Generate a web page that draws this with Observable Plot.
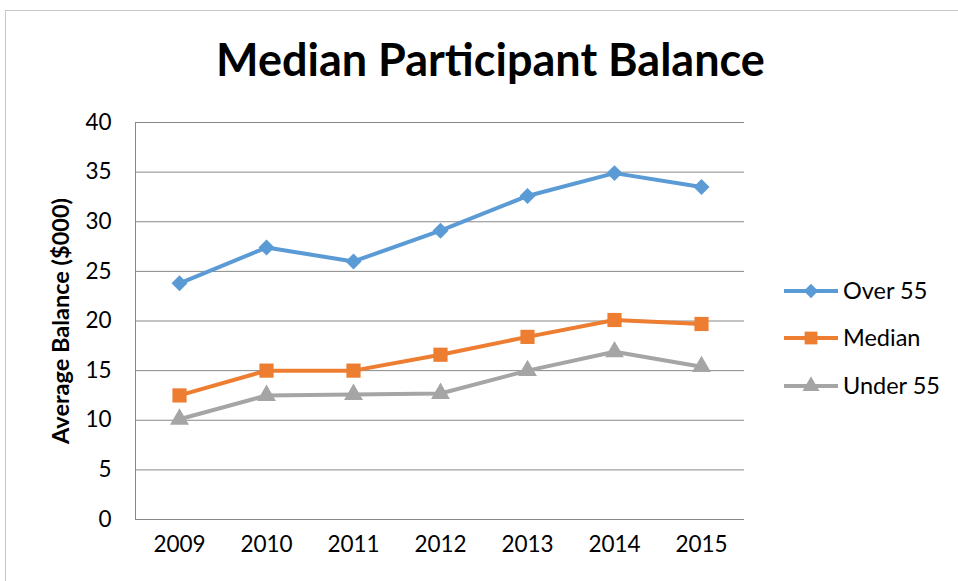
<!DOCTYPE html>
<html><head><meta charset="utf-8">
<script src="https://cdn.jsdelivr.net/npm/d3@7"></script>
<script src="https://cdn.jsdelivr.net/npm/@observablehq/plot@0.6"></script>
<style>
html,body{margin:0;padding:0;background:#fff;}
#wrap{position:relative;width:958px;height:581px;overflow:hidden;font-family:Lato,"Open Sans",sans-serif;}
#border{position:absolute;left:5px;top:10px;width:2000px;height:2000px;border-left:1.5px solid #c8c8c8;border-top:1.5px solid #c8c8c8;}
#title{position:absolute;left:0;top:32px;width:981px;text-align:center;font-size:45px;line-height:54px;font-weight:bold;color:#000;}
#chart{position:absolute;left:0;top:0;}
#legend{position:absolute;left:778px;top:0;}
</style></head>
<body><div id="wrap"><div id="border"></div><div id="chart"></div><div id="title">Median Participant Balance</div><div id="legend"></div></div>
<script>
const years = ["2009","2010","2011","2012","2013","2014","2015"];
const over55 = [23.8, 27.4, 26.0, 29.1, 32.6, 34.9, 33.5];
const median = [12.5, 15.0, 15.0, 16.6, 18.4, 20.1, 19.7];
const under55 = [10.1, 12.5, 12.6, 12.7, 15.0, 16.9, 15.4];
const seriesNames = ["Over 55", "Median", "Under 55"];
const seriesColors = ["#5B9BD5", "#ED7D31", "#A5A5A5"];
const seriesSymbols = ["diamond2", "square", "triangle"];
const seriesR = [7.2, 8, 7];
const yTicks = [0,5,10,15,20,25,30,35,40];

const allValues = [over55, median, under55];
const rows = [];
allValues.forEach((vals, i) => vals.forEach((v, j) => rows.push({year: years[j], value: v, series: seriesNames[i]})));

const plot = Plot.plot({
  width: 958, height: 581,
  marginLeft: 135, marginRight: 214, marginTop: 122, marginBottom: 62,
  style: {fontFamily: "Lato, 'Open Sans', sans-serif", fontSize: "22px", color: "#000", background: "transparent"},
  x: {type: "point", domain: years, padding: 0.5, label: null},
  y: {domain: [0, 40], label: null},
  color: {domain: seriesNames, range: seriesColors},
  marks: [
    Plot.gridY(yTicks, {stroke: "#888", strokeOpacity: 1, strokeWidth: 1}),
    Plot.frame({anchor: "left", stroke: "#888", strokeWidth: 1}),
    Plot.axisY(yTicks, {tickSize: 0, tickPadding: 24, fontSize: 22.5, label: null}),
    Plot.axisX(years, {tickSize: 0, tickPadding: 17, fontSize: 22.5, label: null}),
    Plot.line(rows, {x: "year", y: "value", z: "series", stroke: "series", strokeWidth: 4}),
    ...seriesNames.map((name, i) => Plot.dot(rows.filter(d => d.series === name),
      {x: "year", y: "value", symbol: () => seriesSymbols[i], fill: seriesColors[i], r: seriesR[i], stroke: null})),
    Plot.text(["Average Balance ($000)"], {frameAnchor: "left", dx: -74, rotate: -90, textAnchor: "middle", fontWeight: "bold", fontSize: 23.5, fill: "#000"})
  ]
});
document.getElementById("chart").appendChild(plot);

// legend
const lg = d3.select("#legend").append("svg").attr("width", 180).attr("height", 581)
  .style("font-family", "Lato, 'Open Sans', sans-serif");
const legendY = [291, 338, 386];
const symMap = {diamond2: d3.symbolDiamond2, square: d3.symbolSquare, triangle: d3.symbolTriangle};
seriesNames.forEach((name, i) => {
  const g = lg.append("g").attr("transform", `translate(0,${legendY[i]})`);
  g.append("line").attr("x1", 6).attr("x2", 60).attr("y1", 0).attr("y2", 0)
    .attr("stroke", seriesColors[i]).attr("stroke-width", 4);
  const r = seriesR[i] * 0.9;
  g.append("path").attr("d", d3.symbol(symMap[seriesSymbols[i]], Math.PI * r * r)()).attr("transform", "translate(33,0)").attr("fill", seriesColors[i]);
  g.append("text").attr("x", 65).attr("y", 0).attr("dy", "0.36em").attr("font-size", 23.5).text(name);
});
</script></body></html>
